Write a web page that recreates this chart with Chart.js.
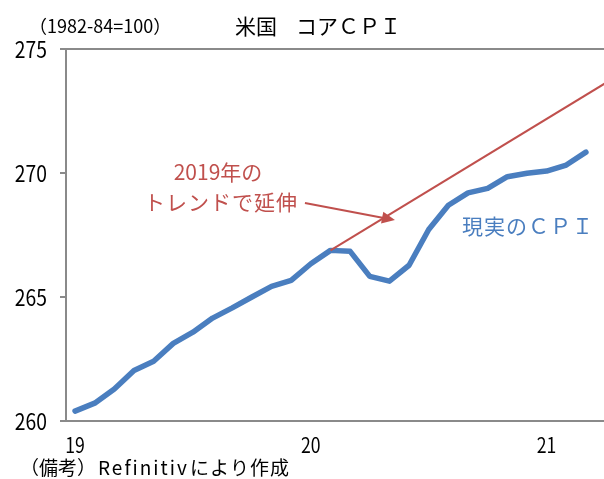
<!DOCTYPE html>
<html lang="ja">
<head>
<meta charset="utf-8">
<script src="https://cdn.jsdelivr.net/npm/chart.js@4/dist/chart.umd.min.js"></script>
<style>
  html, body { margin: 0; padding: 0; background: #fff; }
  #wrap { width: 604px; height: 479px; }
</style>
</head>
<body>
<div id="wrap"><canvas id="cpi" width="604" height="479"></canvas></div>
<script>
// Monthly index, Jan 2019 .. Mar 2021 (index 0 .. 26)
const MONTHS = [
  '2019-01', '2019-02', '2019-03', '2019-04', '2019-05', '2019-06',
  '2019-07', '2019-08', '2019-09', '2019-10', '2019-11', '2019-12',
  '2020-01', '2020-02', '2020-03', '2020-04', '2020-05', '2020-06',
  '2020-07', '2020-08', '2020-09', '2020-10', '2020-11', '2020-12',
  '2021-01', '2021-02', '2021-03',
];
const CORE_CPI = [
  260.40, 260.72, 261.29, 262.04, 262.41, 263.13, 263.58, 264.15, 264.56,
  265.00, 265.43, 265.67, 266.34, 266.88, 266.84, 265.83, 265.64, 266.28,
  267.72, 268.70, 269.20, 269.38, 269.85, 269.99, 270.08, 270.32, 270.84,
];
// 2019 trend carried forward from Feb 2020 (month index -> level)
const TREND_X = [13, 28];
const TREND_Y = [266.88, 274.11];

const YEAR_TICKS = ['19', '20', '21'];
const Y_TICKS = [260, 265, 270, 275];

const BLUE = '#4a7ebf';
const RED = '#c0504d';
const AXIS = '#8a8a8a';
const JP = '"Noto Sans CJK JP", sans-serif';

// year labels sit on the January of each year
const janIdx = MONTHS.map((m, i) => (m.endsWith('-01') ? i : -1)).filter(i => i >= 0);

// narrow half-width digits, squeezed horizontally
function narrowText(ctx, text, x, y, align, sx) {
  ctx.save();
  ctx.translate(x, y);
  ctx.scale(sx, 1);
  ctx.textAlign = align;
  ctx.fillText(text, 0, 0);
  ctx.restore();
}

const textPlugin = {
  id: 'texts',
  afterDatasetsDraw(chart) {
    const { ctx, scales: { x, y } } = chart;
    ctx.save();
    ctx.textBaseline = 'middle';

    // axis labels
    ctx.fillStyle = '#000';
    ctx.font = `23px ${JP}`;
    Y_TICKS.forEach(v => narrowText(ctx, String(v), 47, y.getPixelForValue(v), 'right', 0.84));
    ctx.font = `21px ${JP}`;
    janIdx.forEach((v, i) => narrowText(ctx, YEAR_TICKS[i], x.getPixelForValue(v), 445, 'center', 0.84));

    ctx.textAlign = 'left';
    ctx.font = `18px ${JP}`;
    ctx.fillText('（1982-84=100）', 29, 26);
    ctx.font = `21px ${JP}`;
    ctx.fillText('米国', 235, 26);
    ctx.fillText('コアＣＰＩ', 296, 26);

    ctx.font = `19px ${JP}`;
    let fx = 20;
    ctx.fillText('（備考）', fx, 468);
    fx += ctx.measureText('（備考）').width + 2;
    ctx.letterSpacing = '2px';
    ctx.fillText('Refinitiv', fx, 468);
    fx += ctx.measureText('Refinitiv').width + 1;
    ctx.letterSpacing = '1px';
    ctx.fillText('により作成', fx, 468);
    ctx.letterSpacing = '0px';

    ctx.fillStyle = RED;
    ctx.textAlign = 'center';
    ctx.font = `21px ${JP}`;
    ctx.fillText('2019年の', 218, 172);
    ctx.letterSpacing = '1px';
    ctx.fillText('トレンドで延伸', 221, 202);
    ctx.letterSpacing = '0px';

    // arrow pointing onto the trend line
    const x0 = x.getPixelForValue(11.7), y0 = y.getPixelForValue(268.79);
    const x1 = x.getPixelForValue(16.28), y1 = y.getPixelForValue(268.10);
    const ang = Math.atan2(y1 - y0, x1 - x0);
    ctx.strokeStyle = RED;
    ctx.lineWidth = 2;
    ctx.beginPath();
    ctx.moveTo(x0, y0);
    ctx.lineTo(x1 - 10 * Math.cos(ang), y1 - 10 * Math.sin(ang));
    ctx.stroke();
    ctx.beginPath();
    ctx.moveTo(x1, y1);
    ctx.lineTo(x1 - 13 * Math.cos(ang) + 6 * Math.sin(ang), y1 - 13 * Math.sin(ang) - 6 * Math.cos(ang));
    ctx.lineTo(x1 - 13 * Math.cos(ang) - 6 * Math.sin(ang), y1 - 13 * Math.sin(ang) + 6 * Math.cos(ang));
    ctx.closePath();
    ctx.fill();

    ctx.fillStyle = BLUE;
    ctx.textAlign = 'left';
    ctx.font = `21px ${JP}`;
    ctx.letterSpacing = '1px';
    ctx.fillText('現実のＣＰＩ', 462, 226);
    ctx.restore();
  },
};

new Chart(document.getElementById('cpi'), {
  type: 'line',
  data: {
    datasets: [
      {
        label: '2019年のトレンドで延伸',
        data: TREND_X.map((v, i) => ({ x: v, y: TREND_Y[i] })),
        borderColor: RED,
        borderWidth: 2,
        pointRadius: 0,
        tension: 0,
      },
      {
        label: '現実のＣＰＩ',
        data: CORE_CPI.map((v, i) => ({ x: i, y: v })),
        borderColor: BLUE,
        borderWidth: 5.5,
        borderJoinStyle: 'round',
        borderCapStyle: 'round',
        pointRadius: 0,
        tension: 0,
      },
    ],
  },
  options: {
    responsive: false,
    animation: false,
    layout: { padding: { top: 49, right: 0, bottom: 0, left: 0 } },
    plugins: { legend: { display: false }, tooltip: { enabled: false } },
    scales: {
      x: {
        type: 'linear',
        min: -0.46,
        max: 26.92,
        afterBuildTicks: s => { s.ticks = janIdx.map(v => ({ value: v })); },
        afterFit: s => { s.height = 58; },
        grid: { display: false, drawTicks: false },
        border: { color: AXIS, width: 2 },
        ticks: { display: false },
      },
      y: {
        min: 260,
        max: 275,
        afterBuildTicks: s => { s.ticks = Y_TICKS.map(v => ({ value: v })); },
        afterFit: s => { s.width = 66; },
        grid: {
          color: c => (c.tick && c.tick.value === 275 ? AXIS : 'rgba(0,0,0,0)'),
          tickColor: AXIS,
          lineWidth: 2,
          tickLength: 6,
        },
        border: { color: AXIS, width: 2 },
        ticks: { display: false },
      },
    },
  },
  plugins: [textPlugin],
});
</script>
</body>
</html>
